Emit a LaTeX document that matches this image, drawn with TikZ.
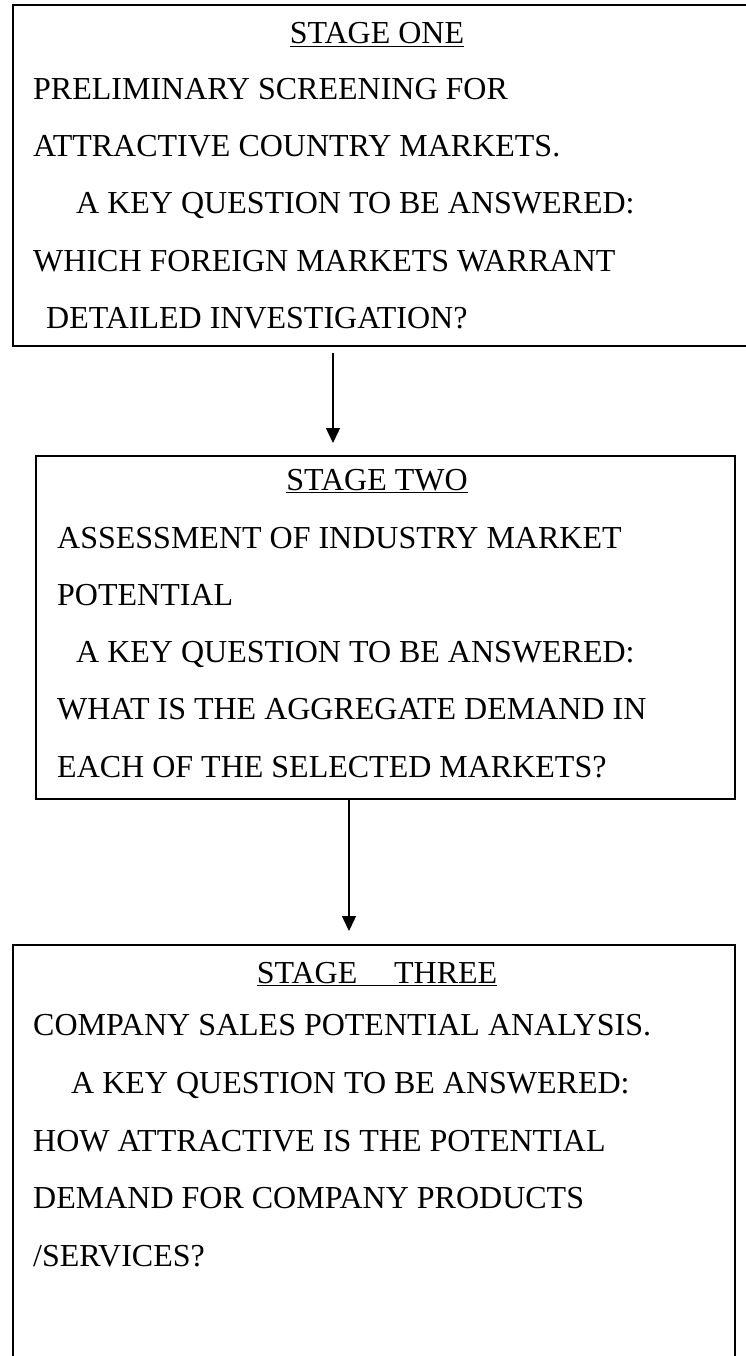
\documentclass[tikz,border=0pt]{standalone}
\usepackage{fontspec}
\setmainfont{Liberation Serif}
\usetikzlibrary{arrows.meta}

\begin{document}
\begin{tikzpicture}[x=1pt, y=-1pt,
    stagebox/.style={draw, line width=1.4pt, outer sep=0pt, inner sep=0pt, anchor=north west},
    head/.style={anchor=base, inner sep=0pt, font=\fontsize{32}{38}\selectfont},
    txt/.style={anchor=base west, inner sep=0pt, font=\fontsize{32}{38}\selectfont},
    flow/.style={line width=1.4pt, -{Triangle[length=15pt, width=14pt]}}]
    \useasboundingbox (0,0) rectangle (746,1356);
    % the three boxes
    \node[stagebox, minimum width=737pt, minimum height=341pt] (one) at (13,5) {};
    \node[stagebox, minimum width=699pt, minimum height=343pt] (two) at (36,456) {};
    \node[stagebox, minimum width=722pt, minimum height=460pt] (three) at (13,945) {};
    % stage one
    \node[head] (onehead) at (377,44) {\underline{STAGE ONE}};
    \node[txt] (onea) at (33,100) {PRELIMINARY SCREENING FOR};
    \node[txt] (oneb) at (33,157) {ATTRACTIVE COUNTRY MARKETS.};
    \node[txt] (onec) at (76,214) {A KEY QUESTION TO BE ANSWERED:};
    \node[txt] (oned) at (33,271) {WHICH FOREIGN MARKETS WARRANT};
    \node[txt] (onee) at (46,328) {DETAILED INVESTIGATION?};
    % stage two
    \node[head] (twohead) at (377,490) {\underline{STAGE TWO}};
    \node[txt] (twoa) at (57,548) {ASSESSMENT OF INDUSTRY MARKET};
    \node[txt] (twob) at (57,605) {POTENTIAL};
    \node[txt] (twoc) at (76,662) {A KEY QUESTION TO BE ANSWERED:};
    \node[txt] (twod) at (57,719) {WHAT IS THE AGGREGATE DEMAND IN};
    \node[txt] (twoe) at (57,777) {EACH OF THE SELECTED MARKETS?};
    % stage three
    \node[head] (threehead) at (377,983) {\underline{STAGE\hspace{1.15em}THREE}};
    \node[txt] (threea) at (33,1035) {COMPANY SALES POTENTIAL ANALYSIS.};
    \node[txt] (threeb) at (71,1093) {A KEY QUESTION TO BE ANSWERED:};
    \node[txt] (threec) at (33,1151) {HOW ATTRACTIVE IS THE POTENTIAL};
    \node[txt] (threed) at (33,1208) {DEMAND FOR COMPANY PRODUCTS};
    \node[txt] (threee) at (33,1266) {/SERVICES?};
    % arrows
    \coordinate (c1) at (333,0);
    \coordinate (c2) at (349,0);
    \draw[flow, shorten <=7pt, shorten >=13pt] (c1 |- one.south) -- (c1 |- two.north);
    \draw[flow, shorten >=14pt] (c2 |- two.south) -- (c2 |- three.north);
\end{tikzpicture}
\end{document}
